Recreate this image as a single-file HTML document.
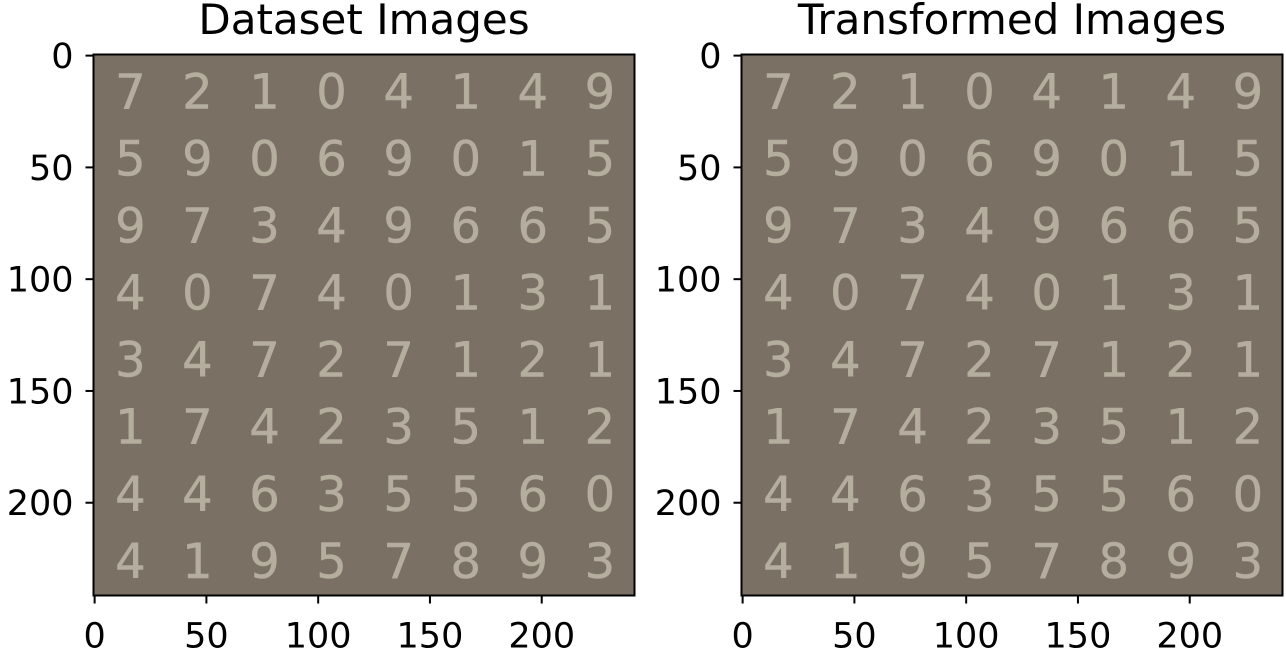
<!DOCTYPE html>
<html><head><meta charset="utf-8">
<style>
html,body{margin:0;padding:0;background:#fff;}
svg{display:block;font-family:"DejaVu Sans","Liberation Sans",sans-serif;}
</style></head>
<body>
<svg id="fig" width="1286" height="654" viewBox="0 0 1286 654" xmlns="http://www.w3.org/2000/svg"></svg>
<script>
const digitRows = ["72104149","59069015","97349665","40740131","34727121","17423512","44635560","41957893"];
const tickValues = [0,50,100,150,200];
const panelTitles = ["Dataset Images","Transformed Images"];
const panelLefts = [93.5, 741.5];

const NS = "http://www.w3.org/2000/svg";
const svg = document.getElementById("fig");
const top0 = 54.5, size = 541, units = 242;
function mk(tag, attrs, parent){
  const e = document.createElementNS(NS, tag);
  for (const k in attrs) e.setAttribute(k, attrs[k]);
  (parent||svg).appendChild(e);
  return e;
}
panelLefts.forEach((left, p) => {
  const sx = v => left + (v + 0.5) * size / units;
  const sy = v => top0 + (v + 0.5) * size / units;
  const g = mk("g", {});
  
  
  const bg = mk("rect", {x:left, y:top0, width:size, height:size, fill:"#7a7164"}, g);
  
  
  digitRows.forEach((row, r) => {
    row.split("").forEach((d, c) => {
      const t = mk("text", {x:sx(16 + 30*c), y:sy(16 + 30*r) + 17, "font-size":48, fill:"#b5ad9d", stroke:"#b5ad9d", "stroke-width":0.5, "text-anchor":"middle"}, g);
      t.textContent = d;
      
      
    });
  });
  const fr = mk("rect", {x:left, y:top0, width:size, height:size, fill:"none", stroke:"#000", "stroke-width":2}, g);
  
  
  tickValues.forEach(v => {
    mk("line", {x1:sx(v), x2:sx(v), y1:top0+size, y2:top0+size+8, stroke:"#000", "stroke-width":2}, g);
    const tx = mk("text", {x:sx(v), y:top0+size+52, "font-size":35, "text-anchor":"middle", fill:"#000"}, g);
    tx.textContent = v;
    
    
    mk("line", {x1:left-8, x2:left, y1:sy(v), y2:sy(v), stroke:"#000", "stroke-width":2}, g);
    const ty = mk("text", {x:left-20, y:sy(v)+12.5, "font-size":35, "text-anchor":"end", fill:"#000"}, g);
    ty.textContent = v;
    
    
  });
  const title = mk("text", {x:left+size/2, y:34, "font-size":42, "text-anchor":"middle", fill:"#000"}, g);
  title.textContent = panelTitles[p];
  
  
});
</script>
</body></html>
